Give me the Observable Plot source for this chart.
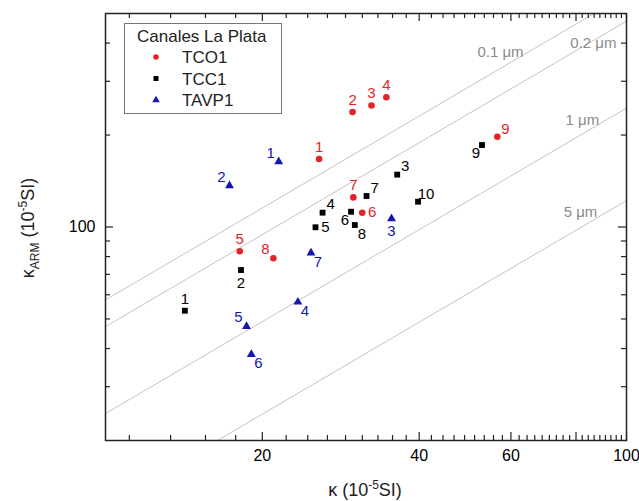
<!DOCTYPE html>
<html><head><meta charset="utf-8">
<script src="https://cdn.jsdelivr.net/npm/d3@7"></script>
<script src="https://cdn.jsdelivr.net/npm/@observablehq/plot@0.6"></script>
<style>body{margin:0;background:#fff;} svg{display:block;}</style>
</head><body><div id="chart"></div>
<script>
// ---- data ----
const seriesNames = ["TCO1", "TCC1", "TAVP1"];
const seriesColors = ["#e3232a", "#000000", "#1515b0"];
const seriesSymbols = ["circle", "square", "triangle"];

const tco1Kappa = [25.7, 29.8, 32.4, 34.6, 18.1, 31.1, 29.9, 21.0, 56.5];
const tco1Karm  = [167, 238, 250, 266, 83.3, 111.4, 125, 79.0, 197.5];
const tco1LabelPos = ["top","top","top","top","top","right","top","topleft","topright"];

const tcc1Kappa = [14.2, 18.2, 36.3, 26.1, 25.3, 29.6, 31.7, 30.1, 52.8, 39.8];
const tcc1Karm  = [53.2, 72.3, 148.4, 111.4, 99.8, 112.2, 126.3, 101.5, 185.5, 121];
const tcc1LabelPos = ["top","bottom","topright","topright","right","bottomleft","topright","bottomright","bottomleft","topright"];

const tavp1Kappa = [21.5, 17.3, 35.4, 23.4, 18.65, 19.05, 24.8];
const tavp1Karm  = [163.6, 136.5, 106.5, 56.8, 47.3, 38.3, 82.2];
const tavp1LabelPos = ["topleft","topleft","bottom","bottomright","topleft","bottomright","bottomright"];

const grainLabels = ["0.1 μm", "0.2 μm", "1 μm", "5 μm"];
const grainRatio = [5.77, 4.72, 2.45, 1.22];
const grainLabelKappa = [57.3, 86.4, 82.3, 81.6];
const grainLabelKarm = [374, 400, 224, 112];

const xMajorTicks = [20, 40, 60, 80, 100];
const xMinorTicks = d3.range(5, 45).map(i => i * 20 / 9).filter(v => v > 10.5 && v < 99.5 && Math.abs(v / 20 - Math.round(v / 20)) > 1e-6);
const yMajorTicks = [100];
const yMinorTicks = [30, 40, 50, 60, 70, 80, 90, 200, 300, 400];

// ---- build tables ----
const seriesData = [
  [tco1Kappa, tco1Karm, tco1LabelPos],
  [tcc1Kappa, tcc1Karm, tcc1LabelPos],
  [tavp1Kappa, tavp1Karm, tavp1LabelPos]
];
const points = [];
seriesNames.forEach((s, si) => {
  const [kx, ky, pos] = seriesData[si];
  kx.forEach((v, i) => points.push({series: s, kappa: v, karm: ky[i], label: String(i + 1), pos: pos[i]}));
});
const grainLines = [];
grainRatio.forEach((r, i) => {
  grainLines.push({g: grainLabels[i], kappa: 10, karm: 10 * r});
  grainLines.push({g: grainLabels[i], kappa: 100, karm: 100 * r});
});
const grainText = grainLabels.map((t, i) => ({t, kappa: grainLabelKappa[i], karm: grainLabelKarm[i]}));

const offsets = {
  top: [0, -12], bottom: [0, 13], right: [10, 0], topright: [8, -8],
  topleft: [-8, -9], bottomright: [7, 9], bottomleft: [-6, 8]
};

const W = 639, H = 501, mL = 105, mR = 13, mT = 13, mB = 61;
const fw = W - mL - mR, fh = H - mT - mB;
const tickCol = "#222";

const labelMarks = Object.entries(offsets).map(([dir, [dx, dy]]) =>
  Plot.text(points.filter(d => d.pos === dir), {
    x: "kappa", y: "karm", text: "label", fill: "series", dx, dy, fontSize: 15
  })
);

const svg = Plot.plot({
  width: W, height: H,
  marginLeft: mL, marginRight: mR, marginTop: mT, marginBottom: mB,
  style: {fontFamily: "'Liberation Sans', Arial, sans-serif", fontSize: "16px", background: "#fff", color: "#000"},
  x: {type: "log", domain: [10, 100], axis: null},
  y: {type: "log", domain: [20, 500], axis: null},
  color: {domain: seriesNames, range: seriesColors},
  symbol: {domain: seriesNames, range: seriesSymbols},
  marks: [
    Plot.line(grainLines, {x: "kappa", y: "karm", z: "g", stroke: "#c4c4c4", strokeWidth: 1, clip: true}),
    Plot.text(grainText, {x: "kappa", y: "karm", text: "t", fill: "#8a8a8a", fontSize: 15}),
    // bottom ticks
    Plot.tickX(xMajorTicks, {x: d => d, insetTop: fh - 8, stroke: tickCol, strokeWidth: 1.2}),
    Plot.tickX(xMinorTicks, {x: d => d, insetTop: fh - 5, stroke: tickCol, strokeWidth: 1.2}),
    // top ticks
    Plot.tickX(xMajorTicks, {x: d => d, insetBottom: fh - 8, stroke: tickCol, strokeWidth: 1.2}),
    Plot.tickX(xMinorTicks, {x: d => d, insetBottom: fh - 5, stroke: tickCol, strokeWidth: 1.2}),
    // left ticks
    Plot.tickY(yMajorTicks, {y: d => d, insetRight: fw - 8, stroke: tickCol, strokeWidth: 1.2}),
    Plot.tickY(yMinorTicks, {y: d => d, insetRight: fw - 5, stroke: tickCol, strokeWidth: 1.2}),
    // right ticks
    Plot.tickY(yMajorTicks, {y: d => d, insetLeft: fw - 8, stroke: tickCol, strokeWidth: 1.2}),
    Plot.tickY(yMinorTicks, {y: d => d, insetLeft: fw - 5, stroke: tickCol, strokeWidth: 1.2}),
    Plot.axisX(xMajorTicks, {tickSize: 0, tickPadding: 9, tickFormat: d => String(d), label: null, fontSize: 16}),
    Plot.axisY(yMajorTicks, {tickSize: 0, tickPadding: 10, tickFormat: d => String(d), label: null, fontSize: 16}),
    Plot.frame({stroke: "#222", strokeWidth: 1.5}),
    Plot.dot(points, {x: "kappa", y: "karm", symbol: "series", fill: "series", r: 3.3, stroke: "none"}),
    ...labelMarks
  ]
});
document.getElementById("chart").appendChild(svg);

// ---- legend and axis titles ----
const s = d3.select(svg);
const font = "'Liberation Sans', Arial, sans-serif";
const lg = s.append("g").attr("font-family", font).attr("font-size", 17).attr("text-anchor", "start");
lg.append("rect").attr("x", 124.5).attr("y", 23.5).attr("width", 157).attr("height", 90)
  .attr("fill", "#fff").attr("stroke", "#777").attr("stroke-width", 1);
lg.append("text").attr("x", 137).attr("y", 42).attr("fill", "#222").text("Canales La Plata");
const symMap = {circle: d3.symbolCircle, square: d3.symbolSquare, triangle: d3.symbolTriangle};
seriesNames.forEach((n, i) => {
  const cy = 57 + i * 21.5;
  lg.append("path").attr("transform", `translate(156,${cy})`)
    .attr("d", d3.symbol(symMap[seriesSymbols[i]], Math.PI * 2.8 * 2.8)())
    .attr("fill", seriesColors[i]);
  lg.append("text").attr("x", 182).attr("y", cy + 6).attr("fill", "#222").text(n);
});

const xt = s.append("text").attr("x", 365).attr("y", 496).attr("text-anchor", "middle")
  .attr("font-family", font).attr("font-size", 18).attr("fill", "#222");
xt.append("tspan").text("κ (10");
xt.append("tspan").attr("dy", -7).attr("font-size", 12).text("-5");
xt.append("tspan").attr("dy", 7).text("SI)");

const yt = s.append("text").attr("transform", "translate(34,228) rotate(-90)").attr("text-anchor", "middle")
  .attr("font-family", font).attr("font-size", 18).attr("fill", "#222");
yt.append("tspan").text("κ");
yt.append("tspan").attr("dy", 5).attr("font-size", 12).text("ARM");
yt.append("tspan").attr("dy", -5).text(" (10");
yt.append("tspan").attr("dy", -7).attr("font-size", 12).text("-5");
yt.append("tspan").attr("dy", 7).text("SI)");
</script>
</body></html>
